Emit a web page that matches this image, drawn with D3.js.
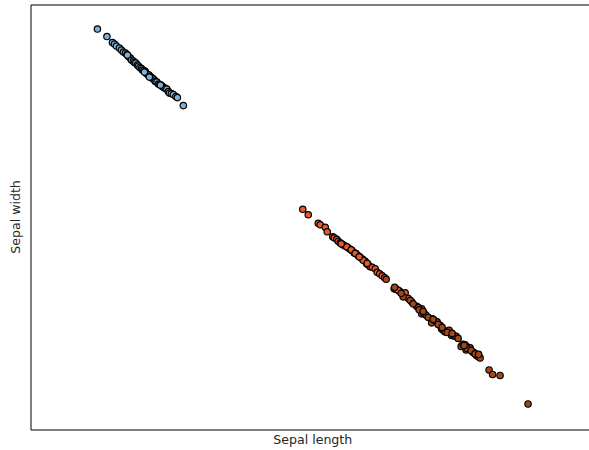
<!DOCTYPE html>
<html>
<head>
<meta charset="utf-8">
<script src="https://cdn.jsdelivr.net/npm/d3@7"></script>
<style>
  html, body { margin: 0; padding: 0; background: #fff; }
  svg { display: block; }
</style>
</head>
<body>
<script>
// Projected iris samples, one array pair per species
const setosaX = [-2.33,-2.235,-2.18,-2.16,-2.14,-2.11,-2.09,-2.07,-2.05,-2.035,-2.02,-2.00,-1.99,-1.97,-1.96,-1.945,-1.93,-1.92,-1.905,-1.89,-1.88,-1.865,-1.85,-1.84,-1.825,-1.815,-1.80,-1.785,-1.775,-1.76,-1.75,-1.735,-1.72,-1.705,-1.69,-1.68,-1.665,-1.65,-1.635,-1.62,-1.61,-1.59,-1.57,-1.545,-1.53,-1.47,-2.03,-1.86,-1.70,-1.81];
const setosaY = [2.00,1.925,1.865,1.85,1.83,1.81,1.79,1.77,1.76,1.745,1.725,1.71,1.69,1.68,1.665,1.66,1.64,1.63,1.615,1.605,1.59,1.585,1.575,1.555,1.545,1.54,1.525,1.51,1.505,1.49,1.475,1.47,1.45,1.445,1.435,1.425,1.415,1.405,1.40,1.375,1.36,1.355,1.345,1.325,1.315,1.235,1.74,1.57,1.44,1.52];

const versicolorX = [-0.275,-0.22,-0.12,-0.10,-0.05,-0.03,0.025,0.04,0.065,0.08,0.10,0.12,0.135,0.155,0.18,0.20,0.22,0.24,0.26,0.28,0.30,0.325,0.35,0.365,0.38,0.40,0.42,0.45,0.47,0.495,0.52,0.545,0.64,0.66,0.695,0.74,0.75,0.78,0.815,0.865,0.915,0.165,0.21,0.33,0.11,0.25,0.29,1.02,0.37,0.68];
const versicolorY = [0.20,0.145,0.06,0.045,0.02,-0.025,-0.075,-0.085,-0.10,-0.12,-0.135,-0.15,-0.16,-0.17,-0.185,-0.20,-0.215,-0.235,-0.245,-0.265,-0.28,-0.30,-0.32,-0.345,-0.355,-0.375,-0.38,-0.395,-0.43,-0.445,-0.465,-0.485,-0.595,-0.60,-0.62,-0.65,-0.635,-0.69,-0.725,-0.77,-0.795,-0.175,-0.205,-0.31,-0.145,-0.24,-0.275,-0.895,-0.34,-0.61];

const virginicaX = [0.73,0.71,0.80,0.88,0.915,0.94,0.96,1.015,1.04,1.07,1.10,1.115,1.135,1.15,1.19,1.215,1.24,1.26,1.31,1.33,1.35,1.36,1.38,1.40,1.425,1.44,1.465,1.48,1.50,1.59,1.625,1.70,1.98,0.83,0.98,1.08,1.17,1.37,1.41,1.03,1.28,1.45,0.645,0.56,0.89,1.12,1.34,1.22,0.93,1.485];
const virginicaY = [-0.675,-0.64,-0.71,-0.78,-0.845,-0.84,-0.86,-0.935,-0.91,-0.925,-0.96,-0.995,-1.01,-1.025,-1.01,-1.06,-1.065,-1.07,-1.17,-1.15,-1.155,-1.205,-1.18,-1.185,-1.225,-1.235,-1.26,-1.27,-1.285,-1.405,-1.45,-1.46,-1.745,-0.745,-0.88,-0.95,-1.03,-1.19,-1.21,-0.90,-1.09,-1.245,-0.58,-0.50,-0.805,-0.98,-1.16,-1.04,-0.82,-1.25];

const speciesNames = ["setosa", "versicolor", "virginica"];
const speciesColors = ["#7db2d8", "#e85a2c", "#a3471a"];
const xLabel = "Sepal length";
const yLabel = "Sepal width";

const width = 589, height = 450;
const margin = { left: 30.5, top: 4.5, right: -6, bottom: 20.5 };

const svg = d3.select("body").append("svg")
  .attr("width", width).attr("height", height);

const x = d3.scaleLinear().domain([-3.0, 2.65]).range([margin.left, width - margin.right]);
const y = d3.scaleLinear().domain([-2.0, 2.245]).range([height - margin.bottom, margin.top]);

const groups = [
  { xs: setosaX, ys: setosaY },
  { xs: versicolorX, ys: versicolorY },
  { xs: virginicaX, ys: virginicaY }
];
const points = groups.flatMap((g, i) =>
  g.xs.map((v, j) => ({ x: v, y: g.ys[j], species: speciesNames[i] })));

const color = d3.scaleOrdinal().domain(speciesNames).range(speciesColors);

// points
svg.append("g")
  .selectAll("circle")
  .data(points)
  .join("circle")
  .attr("cx", d => x(d.x))
  .attr("cy", d => y(d.y))
  .attr("r", 3.2)
  .attr("fill", d => color(d.species))
  .attr("stroke", "#000")
  .attr("stroke-width", 1.2);

// frame: axes with no ticks
const xAxis = d3.axisBottom(x).tickValues([]).tickSizeOuter(0);
const yAxis = d3.axisLeft(y).tickValues([]).tickSizeOuter(0);
svg.append("g").attr("transform", `translate(0,${y.range()[0]})`).call(xAxis)
  .select(".domain").attr("stroke", "#000").attr("stroke-width", 1);
svg.append("g").attr("transform", `translate(0,${y.range()[1]})`).call(d3.axisTop(x).tickValues([]).tickSizeOuter(0))
  .select(".domain").attr("stroke", "#000").attr("stroke-width", 1);
svg.append("g").attr("transform", `translate(${x.range()[0]},0)`).call(yAxis)
  .select(".domain").attr("stroke", "#000").attr("stroke-width", 1);

// axis titles
svg.append("text")
  .attr("x", (x.range()[0] + x.range()[1]) / 2)
  .attr("y", 444)
  .attr("text-anchor", "middle")
  .attr("font-family", "DejaVu Sans, sans-serif")
  .attr("font-size", 12.6)
  .attr("fill", "#262626")
  .text(xLabel);

svg.append("text")
  .attr("transform", `translate(20,${(y.range()[0] + y.range()[1]) / 2}) rotate(-90)`)
  .attr("text-anchor", "middle")
  .attr("font-family", "DejaVu Sans, sans-serif")
  .attr("font-size", 12.6)
  .attr("fill", "#262626")
  .text(yLabel);
</script>
</body>
</html>
